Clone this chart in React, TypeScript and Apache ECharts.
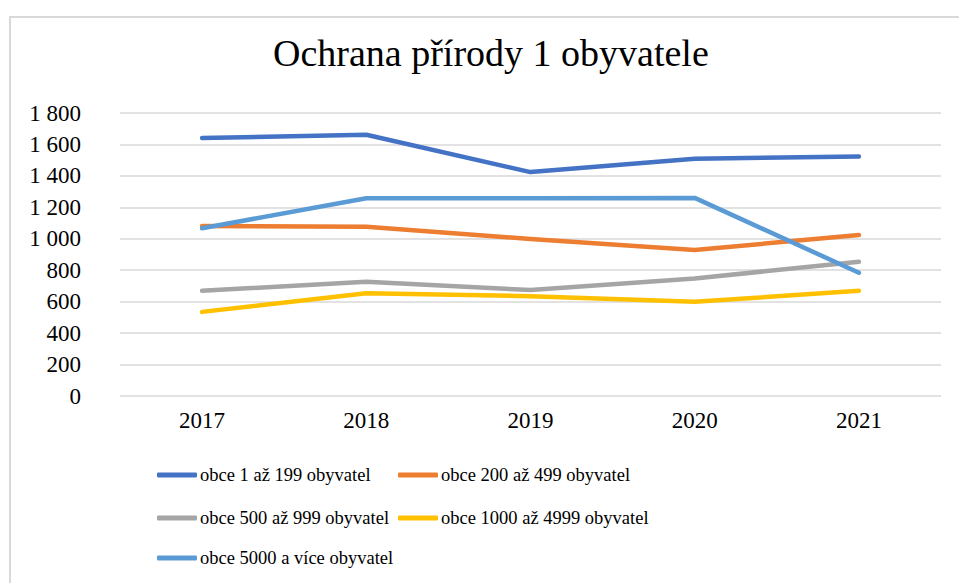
import React, { useEffect, useRef } from "react";
import * as echarts from "echarts";

const title = "Ochrana přírody 1 obyvatele";
const years = ["2017", "2018", "2019", "2020", "2021"];
const seriesNames = [
  "obce 1 až 199 obyvatel",
  "obce 200 až 499 obyvatel",
  "obce 500 až 999 obyvatel",
  "obce 1000 až 4999 obyvatel",
  "obce 5000 a více obyvatel",
];
const s1 = [1641, 1662, 1424, 1509, 1523];
const s2 = [1082, 1077, 999, 929, 1024];
const s3 = [669, 727, 674, 748, 854];
const s4 = [535, 653, 635, 599, 669];
const s5 = [1067, 1258, 1258, 1260, 784];
const colors = ["#4472C4", "#ED7D31", "#A5A5A5", "#FFC000", "#5B9BD5"];

const FONT = "Liberation Serif, serif";

export default function App() {
  const ref = useRef<HTMLDivElement>(null);
  useEffect(() => {
    if (!ref.current) return;
    const chart = echarts.init(ref.current, undefined, { renderer: "svg" });
    const values = [s1, s2, s3, s4, s5];
    const legendPos = [
      { left: 157, top: 475 },
      { left: 398, top: 475 },
      { left: 157, top: 518 },
      { left: 398, top: 518 },
      { left: 157, top: 558 },
    ];
    chart.setOption({
      animation: false,
      backgroundColor: "#ffffff",
      textStyle: { fontFamily: FONT },
      title: {
        text: title,
        left: 273,
        top: 34,
        padding: 0,
        textStyle: { fontFamily: FONT, fontSize: 38, fontWeight: "normal", color: "#000" },
      },
      graphic: [
        {
          type: "rect",
          shape: { x: 10, y: 17, width: 980, height: 600 },
          style: { fill: "none", stroke: "#d9d9d9", lineWidth: 2 },
          silent: true,
        },
      ],
      legend: seriesNames.map((n, i) => ({
        data: [n],
        left: legendPos[i].left,
        top: legendPos[i].top - 11,
        padding: 0,
        icon: "roundRect",
        itemWidth: 40,
        itemHeight: 5,
        itemGap: 0,
        textStyle: { fontFamily: FONT, fontSize: 18.5, color: "#000", lineHeight: 22, padding: [0, 0, 0, -2] },
      })),
      grid: { left: 120, right: 18, top: 113, bottom: 187, containLabel: false },
      xAxis: {
        type: "category",
        data: years,
        boundaryGap: true,
        axisLine: { show: false },
        axisTick: { show: false },
        axisLabel: { fontFamily: FONT, fontSize: 23, color: "#000", margin: 13 },
      },
      yAxis: {
        type: "value",
        min: 0,
        max: 1800,
        interval: 200,
        axisLine: { show: false },
        axisTick: { show: false },
        axisLabel: {
          fontFamily: FONT,
          fontSize: 23,
          color: "#000",
          margin: 39,
          formatter: (v: number) => String(v).replace(/\B(?=(\d{3})+(?!\d))/g, " "),
        },
        splitLine: { lineStyle: { color: "#d9d9d9", width: 1.5 } },
      },
      series: seriesNames.map((n, i) => ({
        name: n,
        type: "line",
        data: values[i],
        symbol: "none",
        color: colors[i],
        lineStyle: { width: 4.5, color: colors[i], cap: "round", join: "round" },
        itemStyle: { color: colors[i] },
      })),
    });
    return () => chart.dispose();
  }, []);
  return (
    <div
      ref={ref}
      style={{ position: "fixed", left: 0, top: 0, width: 959, height: 583, background: "#fff" }}
    />
  );
}
